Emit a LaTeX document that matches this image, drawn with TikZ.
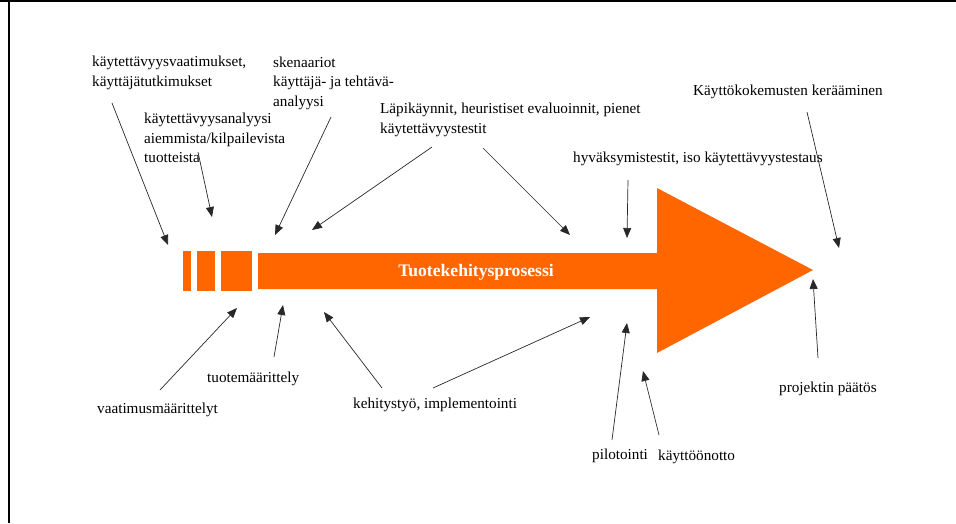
\documentclass[tikz,border=0pt]{standalone}
\usepackage{fontspec}
\setmainfont{Liberation Serif}
\usetikzlibrary{arrows.meta}
\definecolor{procorange}{RGB}{255,102,0}
\definecolor{linegray}{RGB}{40,40,40}
\begin{document}
\begin{tikzpicture}[x=1pt,y=-1pt,
  lbl/.style={anchor=west,inner sep=0pt,align=left,font=\fontsize{15.2}{19.5}\selectfont},
  arr/.style={draw=linegray,line width=0.7pt,-{Triangle[length=10pt,width=8pt]}},
  frameline/.style={draw=black,line width=2pt}]
\useasboundingbox (0,0) rectangle (956,523);
% frame
\draw[frameline] (0,1) -- (956,1);
\draw[frameline] (8.5,0) -- (8.5,523);
% process arrow
\fill[procorange] (183,251) rectangle (191,291);
\fill[procorange] (197,251) rectangle (215,291);
\fill[procorange] (221,251) rectangle (252,291);
\fill[procorange] (258,253) -- (657,253) -- (657,188) -- (813,270) -- (657,353) -- (657,289) -- (258,289) -- cycle;
\node[inner sep=0pt,text=white,font=\fontsize{17.6}{20}\selectfont\bfseries] (proc) at (476,272) {Tuotekehitysprosessi};
% labels
\node[lbl] (l1) at (92,73) {käytettävyysvaatimukset,\\käyttäjätutkimukset};
\node[lbl] (l2) at (144,138) {käytettävyysanalyysi\\aiemmista/kilpailevista\\tuotteista};
\node[lbl] (l3) at (273,83) {skenaariot\\käyttäjä- ja tehtävä-\\analyysi};
\node[lbl] (l4) at (380,120) {Läpikäynnit, heuristiset evaluoinnit, pienet\\käytettävyystestit};
\node[lbl] (l5) at (693,92) {Käyttökokemusten kerääminen};
\node[lbl] (l6) at (573,159) {hyväksymistestit, iso käytettävyystestaus};
\node[lbl] (l7) at (97,410) {vaatimusmäärittelyt};
\node[lbl] (l8) at (207,379) {tuotemäärittely};
\node[lbl] (l9) at (353,405) {kehitystyö, implementointi};
\node[lbl] (l10) at (592,456) {pilotointi};
\node[lbl] (l11) at (658,457) {käyttöönotto};
\node[lbl] (l12) at (779,389) {projektin päätös};
% connector end points
\coordinate (s1) at (112,103); \coordinate (t1) at (168,245);
\coordinate (s2) at (198,152); \coordinate (t2) at (212,217);
\coordinate (s3) at (331,117); \coordinate (t3) at (275,235);
\coordinate (s4) at (432,147); \coordinate (t4) at (312,230);
\coordinate (s5) at (483,148); \coordinate (t5) at (570,235);
\coordinate (s6) at (628,180); \coordinate (t6) at (627,238);
\coordinate (s7) at (807,112); \coordinate (t7) at (839,248);
\coordinate (s8) at (160,390); \coordinate (t8) at (237,308);
\coordinate (s9) at (274,357); \coordinate (t9) at (283,305);
\coordinate (s10) at (382,388); \coordinate (t10) at (324,312);
\coordinate (s11) at (433,388); \coordinate (t11) at (590,317);
\coordinate (s12) at (612,440); \coordinate (t12) at (627,323);
\coordinate (s13) at (659,435); \coordinate (t13) at (643,371);
\coordinate (s14) at (818,358); \coordinate (t14) at (813,279);
% connectors
\foreach \i in {1,...,14} { \draw[arr] (s\i) -- (t\i); }
\end{tikzpicture}
\end{document}
